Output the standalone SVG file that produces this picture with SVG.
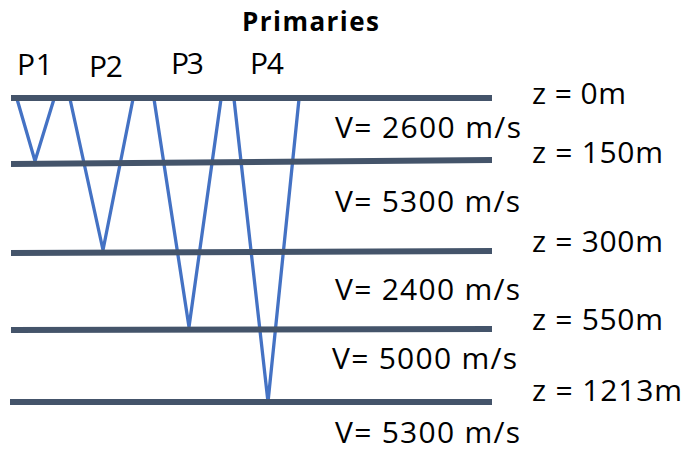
<svg xmlns="http://www.w3.org/2000/svg" width="684" height="452" viewBox="0 0 684 452">
<style>
.t{font-family:"Open Sans","Liberation Sans",sans-serif;font-size:30px;fill:#000}
.b{font-weight:bold;font-size:26px}
.ray{stroke:#4472C4;stroke-width:3.3;fill:none;stroke-linejoin:miter}
.lay{stroke:#44546A;stroke-width:6;fill:none}
</style>
<rect width="684" height="452" fill="#fff"/>
<g id="title"><text class="t b" x="242" y="31" textLength="137" lengthAdjust="spacing">Primaries</text></g>
<g id="connectors">
<polyline class="ray" points="17,99 35,161 54,99"/>
<polyline class="ray" points="70,99 103,250 133,99"/>
<polyline class="ray" points="154,99 189,327 221,99"/>
<polyline class="ray" points="234,99 268,402 299,99"/>
</g>
<g id="layers">
<line class="lay" x1="11" y1="98" x2="492" y2="98"/>
<line class="lay" x1="11" y1="164" x2="492" y2="160"/>
<line class="lay" x1="11" y1="253" x2="492" y2="251"/>
<line class="lay" x1="11" y1="330" x2="492" y2="329"/>
<line class="lay" x1="10" y1="402" x2="492" y2="402"/>
</g>
<g id="labels-p">
<text class="t" x="17" y="75" textLength="36" lengthAdjust="spacing">P1</text>
<text class="t" x="89" y="77" textLength="34" lengthAdjust="spacing">P2</text>
<text class="t" x="171" y="74" textLength="33" lengthAdjust="spacing">P3</text>
<text class="t" x="250" y="74" textLength="34" lengthAdjust="spacing">P4</text>
</g>
<g id="labels-v">
<text class="t" x="335" y="138" textLength="186" lengthAdjust="spacing">V= 2600 m/s</text>
<text class="t" x="335" y="212" textLength="185" lengthAdjust="spacing">V= 5300 m/s</text>
<text class="t" x="335" y="300" textLength="185" lengthAdjust="spacing">V= 2400 m/s</text>
<text class="t" x="332" y="369" textLength="185" lengthAdjust="spacing">V= 5000 m/s</text>
<text class="t" x="335" y="443" textLength="185" lengthAdjust="spacing">V= 5300 m/s</text>
</g>
<g id="labels-z">
<text class="t" x="532" y="104" textLength="94" lengthAdjust="spacing">z = 0m</text>
<text class="t" x="532" y="163" textLength="131" lengthAdjust="spacing">z = 150m</text>
<text class="t" x="532" y="252" textLength="131" lengthAdjust="spacing">z = 300m</text>
<text class="t" x="532" y="330" textLength="131" lengthAdjust="spacing">z = 550m</text>
<text class="t" x="532" y="401" textLength="150" lengthAdjust="spacing">z = 1213m</text>
</g>
</svg>
